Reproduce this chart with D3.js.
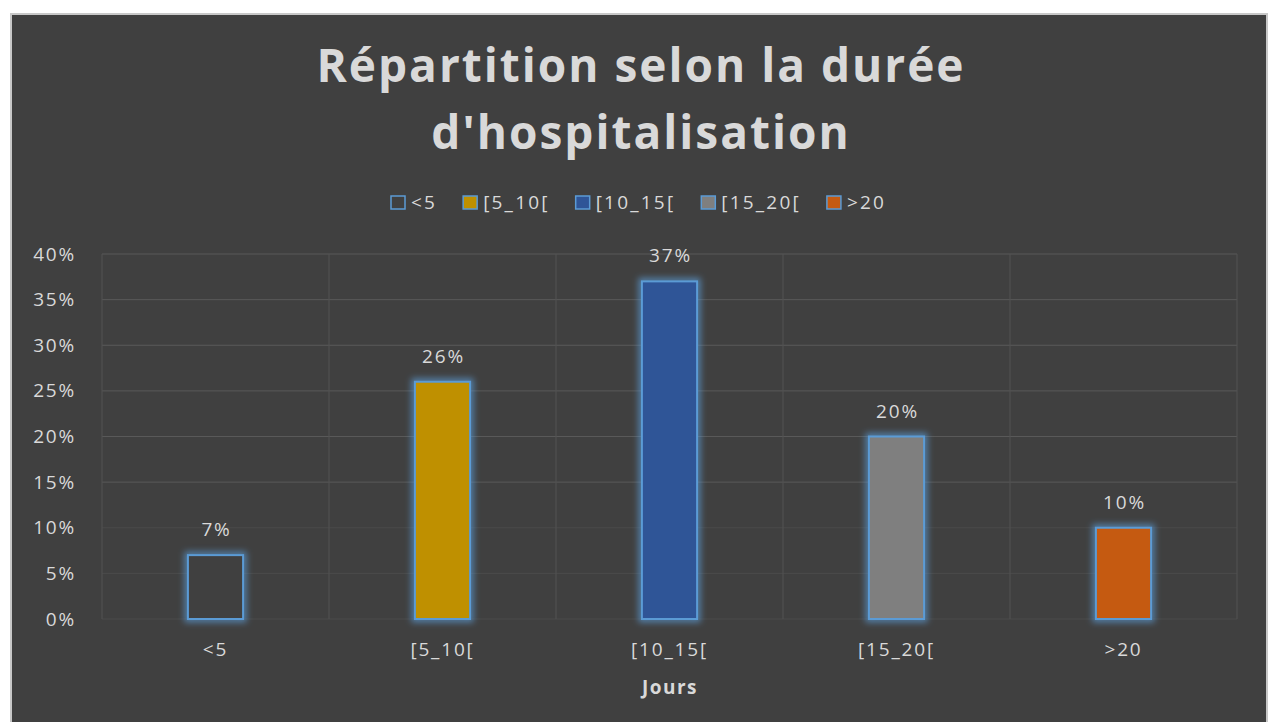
<!DOCTYPE html>
<html>

<head>
    <meta charset="utf-8">
    <script src="https://d3js.org/d3.v7.min.js"></script>
    <style>
        body { margin: 0; background: #ffffff; }
        text { font-family: "Open Sans", "Noto Sans", sans-serif; }
    </style>
    <script>
        // données
        let categories = ['<5', '[5_10[', '[10_15[', '[15_20[', '>20'];
        let values = [0.07, 0.26, 0.37, 0.20, 0.10];
        let barColors = ['none', '#bf9000', '#2f5597', '#7f7f7f', '#c55a11'];
        let yTicks = [0, 0.05, 0.10, 0.15, 0.20, 0.25, 0.30, 0.35, 0.40];
        let titleLines = ['Répartition selon la durée', "d'hospitalisation"];
        let xTitle = 'Jours';

        function draw() {
            let width = 1270;
            let height = 722;
            let textColor = '#d9d9d9';
            let outline = '#5b9bd5';
            let fs = 19;
            let ls = 1.8;

            let svg = d3.select('body').append('svg')
                .attr('width', width)
                .attr('height', height);

            // glow des barres
            let defs = svg.append('defs');
            let f = defs.append('filter').attr('id', 'glow')
                .attr('x', '-30%').attr('y', '-30%').attr('width', '160%').attr('height', '160%');
            f.append('feGaussianBlur').attr('stdDeviation', 3);

            // fond du graphique
            svg.append('rect')
                .attr('x', 11).attr('y', 14)
                .attr('width', 1256).attr('height', 720)
                .attr('fill', '#404040')
                .attr('stroke', '#c8c8c8')
                .attr('stroke-width', 2);

            // titre
            svg.append('text')
                .attr('text-anchor', 'middle')
                .attr('font-size', 46)
                .attr('font-weight', 'bold')
                .attr('letter-spacing', 2)
                .attr('fill', textColor)
                .selectAll('tspan')
                .data(titleLines)
                .enter()
                .append('tspan')
                    .attr('x', 641)
                    .attr('y', (d, i) => 82 + i * 67)
                    .text(d => d);

            // scales
            let x_scale = d3.scaleBand()
                .domain(categories)
                .range([102, 1237])
                .padding(0);

            let y_scale = d3.scaleLinear()
                .domain([0, 0.40])
                .range([619, 254]);

            // grille horizontale
            svg.append('g')
                .selectAll('line')
                .data(yTicks)
                .enter()
                .append('line')
                    .attr('x1', 102).attr('x2', 1237)
                    .attr('y1', d => y_scale(d)).attr('y2', d => y_scale(d))
                    .attr('stroke', d => d <= 0.1 ? '#4a4a4a' : '#595959')
                    .attr('stroke-width', 1);

            // grille verticale
            let bounds = categories.map(c => x_scale(c)).concat([x_scale.range()[1]]);
            svg.append('g')
                .selectAll('line')
                .data(bounds)
                .enter()
                .append('line')
                    .attr('x1', d => d).attr('x2', d => d)
                    .attr('y1', y_scale(0.40)).attr('y2', y_scale(0))
                    .attr('stroke', '#535353')
                    .attr('stroke-width', 1);

            // axe y
            let yAxis = svg.append('g')
                .attr('transform', 'translate(76,0)')
                .call(d3.axisLeft(y_scale).tickValues(yTicks)
                    .tickFormat(d3.format('.0%')).tickSize(0).tickPadding(0));
            yAxis.select('.domain').remove();
            yAxis.selectAll('text')
                .attr('fill', textColor)
                .attr('font-size', fs)
                .attr('letter-spacing', ls)
                .attr('font-family', '"Open Sans", sans-serif');

            // axe x
            let xAxis = svg.append('g')
                .attr('transform', 'translate(0,' + y_scale(0) + ')')
                .call(d3.axisBottom(x_scale).tickSize(0).tickPadding(24));
            xAxis.select('.domain').remove();
            xAxis.selectAll('text')
                .attr('fill', textColor)
                .attr('font-size', fs)
                .attr('letter-spacing', ls)
                .attr('font-family', '"Open Sans", sans-serif');

            // titre axe x
            svg.append('text')
                .attr('x', 670).attr('y', 694)
                .attr('text-anchor', 'middle')
                .attr('font-size', fs)
                .attr('font-weight', 'bold')
                .attr('letter-spacing', 1.5)
                .attr('fill', textColor)
                .text(xTitle);

            // barres
            let barW = x_scale.bandwidth() * 0.243;
            let data = categories.map((c, i) => ({ c: c, v: values[i], col: barColors[i] }));
            let bx = d => x_scale(d.c) + (x_scale.bandwidth() - barW) / 2;

            svg.append('g')
                .selectAll('rect')
                .data(data)
                .enter()
                .append('rect')
                    .attr('x', bx)
                    .attr('y', d => y_scale(d.v))
                    .attr('width', barW)
                    .attr('height', d => y_scale(0) - y_scale(d.v))
                    .attr('fill', 'none')
                    .attr('stroke', outline)
                    .attr('stroke-opacity', 0.7)
                    .attr('stroke-width', 7)
                    .attr('filter', 'url(#glow)');

            svg.append('g')
                .selectAll('rect')
                .data(data)
                .enter()
                .append('rect')
                    .attr('x', bx)
                    .attr('y', d => y_scale(d.v))
                    .attr('width', barW)
                    .attr('height', d => y_scale(0) - y_scale(d.v))
                    .attr('fill', d => d.col === 'none' ? '#404040' : d.col)
                    .attr('stroke', outline)
                    .attr('stroke-width', 2);

            // étiquettes
            svg.append('g')
                .selectAll('text')
                .data(data)
                .enter()
                .append('text')
                    .attr('x', d => x_scale(d.c) + x_scale.bandwidth() / 2 + 1)
                    .attr('y', d => y_scale(d.v) - 19)
                    .attr('text-anchor', 'middle')
                    .attr('font-size', fs)
                    .attr('letter-spacing', ls)
                    .attr('fill', textColor)
                    .text(d => d3.format('.0%')(d.v));

            // légende
            let legend = svg.append('g');
            let lx = 391;
            data.forEach(function (d) {
                legend.append('rect')
                    .attr('x', lx).attr('y', 196)
                    .attr('width', 14).attr('height', 13)
                    .attr('fill', d.col === 'none' ? '#404040' : d.col)
                    .attr('stroke', outline)
                    .attr('stroke-width', 1.5);
                let t = legend.append('text')
                    .attr('x', lx + 20).attr('y', 209)
                    .attr('font-size', fs)
                    .attr('letter-spacing', 2.2)
                    .attr('fill', textColor)
                    .text(d.c);
                lx += 20 + t.node().getComputedTextLength() + 26;
            });
        }
    </script>
</head>

<body>
    <script>
        draw();
    </script>
</body>

</html>
